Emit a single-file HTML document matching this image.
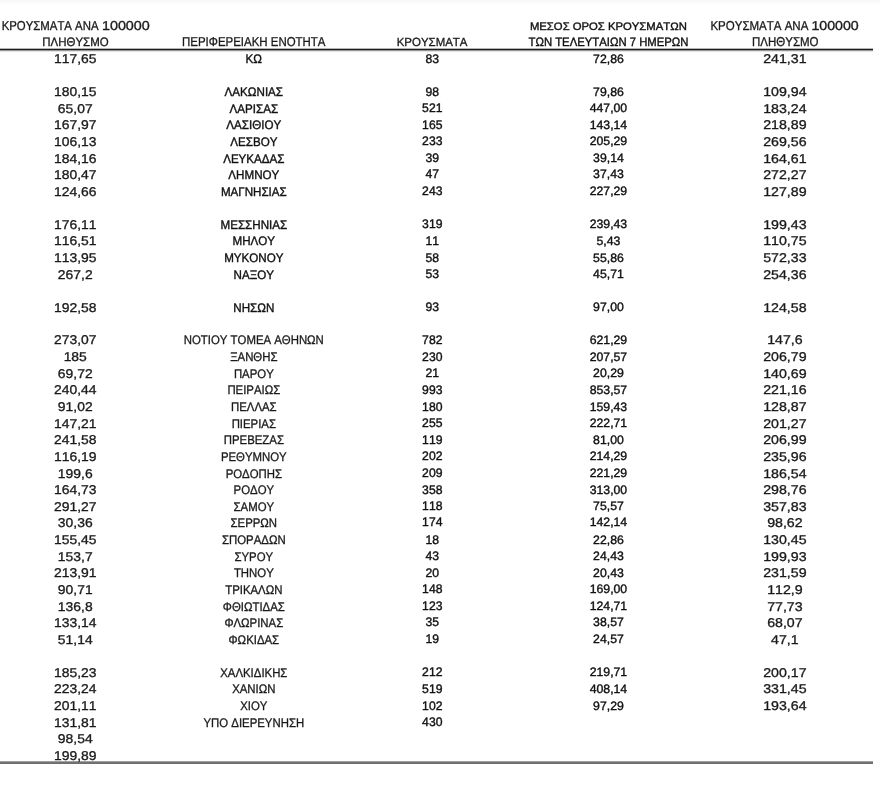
<!DOCTYPE html>
<html><head><meta charset="utf-8"><style>
html,body{margin:0;padding:0;background:#fff;}
body{width:880px;height:798px;position:relative;overflow:hidden;font-family:"Liberation Sans",sans-serif;color:#1e1e1e;text-rendering:geometricPrecision;}
.t{position:absolute;white-space:nowrap;line-height:1;width:300px;text-align:center;transform-origin:50% 0;}
.h{position:absolute;white-space:nowrap;line-height:1;transform-origin:0 0;}
.ln{position:absolute;left:0;width:873px;}
.t span,.h{font-kerning:none;} .cal span,.h.cal{-webkit-text-stroke:0.38px #111;color:#111;} .ari span,.h.ari{-webkit-text-stroke:0.32px #1a1a1a;color:#1a1a1a;} #wrap{position:absolute;left:0;top:0;width:880px;height:798px;filter:blur(0.45px);}
</style></head><body>
<div class="ln" style="top:0;width:880px;height:4px;background:linear-gradient(#f8f8f8,#fcfcfc)"></div>
<div class="ln" style="top:48px;height:4px;background:linear-gradient(#b4b4b4 0 1px,#1c1c1c 1px 2px,#959595 2px 3px,#e4e4e4 3px 4px)"></div>
<div class="ln" style="top:761px;height:3px;background:linear-gradient(#a0a0a0 0 1px,#727272 1px 2px,#6e6e6e 2px 3px)"></div>
<div id="wrap">
<div class="h ari" id="h0" style="left:2px;top:20px;font-size:12.9px;transform:translateX(-0.370px) scaleX(0.8833)">ΚΡΟΥΣΜΑΤΑ ΑΝΑ</div>
<div class="h ari" id="h1" style="left:102px;top:20px;font-size:12.9px;transform:translateX(-0.080px) scaleX(1.1135)">100000</div>
<div class="h ari" id="h2" style="left:42px;top:36px;font-size:12.2px;transform:translateX(0.330px) scaleX(0.9403)">ΠΛΗΘΥΣΜΟ</div>
<div class="h ari" id="h3" style="left:182px;top:36px;font-size:12.9px;transform:translateX(0.030px) scaleX(0.8888)">ΠΕΡΙΦΕΡΕΙΑΚΗ ΕΝΟΤΗΤΑ</div>
<div class="h ari" id="h4" style="left:397px;top:37px;font-size:11.8px;transform:translateX(-0.280px) scaleX(0.9714)">ΚΡΟΥΣΜΑΤΑ</div>
<div class="h cal" id="h5" style="left:530px;top:22px;font-size:10.9px;transform:translateX(-0.080px) scaleX(1.0372)">ΜΕΣΟΣ ΟΡΟΣ ΚΡΟΥΣΜΑΤΩΝ</div>
<div class="h cal" id="h6" style="left:529px;top:36px;font-size:12.2px;transform:translateX(-0.470px) scaleX(0.9283)">ΤΩΝ ΤΕΛΕΥΤΑΙΩΝ 7 ΗΜΕΡΩΝ</div>
<div class="h ari" id="h7" style="left:710px;top:20px;font-size:12.9px;transform:translateX(0.440px) scaleX(0.8924)">ΚΡΟΥΣΜΑΤΑ ΑΝΑ</div>
<div class="h ari" id="h8" style="left:811px;top:20px;font-size:12.9px;transform:translateX(0.410px) scaleX(1.0996)">100000</div>
<div class="h ari" id="h9" style="left:752px;top:36px;font-size:12.9px;transform:translateX(0.020px) scaleX(0.8918)">ΠΛΗΘΥΣΜΟ</div>
<div class="t ari" style="left:-75px;top:53px;font-size:12.8px;transform:translateX(0.250px) scaleX(1.0864)"><span>117,65</span></div>
<div class="t cal" style="left:104px;top:53px;font-size:12.4px;transform:translateX(-0.170px) scaleX(0.9363)"><span>ΚΩ</span></div>
<div class="t cal" style="left:282px;top:53px;font-size:12.4px;transform:translateX(0.280px) scaleX(0.9837)"><span>83</span></div>
<div class="t cal" style="left:458px;top:53px;font-size:12.2px;transform:translateX(0.440px) scaleX(1.006)"><span>72,86</span></div>
<div class="t ari" style="left:635px;top:53px;font-size:12.8px;transform:translateX(-0.100px) scaleX(1.1098)"><span>241,31</span></div>
<div class="t ari" style="left:-75px;top:86px;font-size:12.8px;transform:translateX(0.250px) scaleX(1.0864)"><span>180,15</span></div>
<div class="t cal" style="left:104px;top:86px;font-size:12.4px;transform:translateX(-0.170px) scaleX(0.9363)"><span>ΛΑΚΩΝΙΑΣ</span></div>
<div class="t cal" style="left:282px;top:86px;font-size:12.4px;transform:translateX(0.280px) scaleX(0.9837)"><span>98</span></div>
<div class="t cal" style="left:458px;top:86px;font-size:12.2px;transform:translateX(0.440px) scaleX(1.006)"><span>79,86</span></div>
<div class="t ari" style="left:635px;top:86px;font-size:12.8px;transform:translateX(-0.100px) scaleX(1.1098)"><span>109,94</span></div>
<div class="t ari" style="left:-75px;top:103px;font-size:12.8px;transform:translateX(0.250px) scaleX(1.0864)"><span>65,07</span></div>
<div class="t cal" style="left:104px;top:103px;font-size:12.4px;transform:translateX(-0.170px) scaleX(0.9363)"><span>ΛΑΡΙΣΑΣ</span></div>
<div class="t cal" style="left:282px;top:102px;font-size:12.4px;transform:translateX(0.280px) scaleX(0.9837)"><span>521</span></div>
<div class="t cal" style="left:458px;top:102px;font-size:12.2px;transform:translateX(0.440px) scaleX(1.006)"><span>447,00</span></div>
<div class="t ari" style="left:635px;top:103px;font-size:12.8px;transform:translateX(-0.100px) scaleX(1.1098)"><span>183,24</span></div>
<div class="t ari" style="left:-75px;top:119px;font-size:12.8px;transform:translateX(0.250px) scaleX(1.0864)"><span>167,97</span></div>
<div class="t cal" style="left:104px;top:119px;font-size:12.4px;transform:translateX(-0.170px) scaleX(0.9363)"><span>ΛΑΣΙΘΙΟΥ</span></div>
<div class="t cal" style="left:282px;top:119px;font-size:12.4px;transform:translateX(0.280px) scaleX(0.9837)"><span>165</span></div>
<div class="t cal" style="left:458px;top:119px;font-size:12.2px;transform:translateX(0.440px) scaleX(1.006)"><span>143,14</span></div>
<div class="t ari" style="left:635px;top:119px;font-size:12.8px;transform:translateX(-0.100px) scaleX(1.1098)"><span>218,89</span></div>
<div class="t ari" style="left:-75px;top:136px;font-size:12.8px;transform:translateX(0.250px) scaleX(1.0864)"><span>106,13</span></div>
<div class="t cal" style="left:104px;top:136px;font-size:12.4px;transform:translateX(-0.170px) scaleX(0.9363)"><span>ΛΕΣΒΟΥ</span></div>
<div class="t cal" style="left:282px;top:135px;font-size:12.4px;transform:translateX(0.280px) scaleX(0.9837)"><span>233</span></div>
<div class="t cal" style="left:458px;top:135px;font-size:12.2px;transform:translateX(0.440px) scaleX(1.006)"><span>205,29</span></div>
<div class="t ari" style="left:635px;top:136px;font-size:12.8px;transform:translateX(-0.100px) scaleX(1.1098)"><span>269,56</span></div>
<div class="t ari" style="left:-75px;top:153px;font-size:12.8px;transform:translateX(0.250px) scaleX(1.0864)"><span>184,16</span></div>
<div class="t cal" style="left:104px;top:153px;font-size:12.4px;transform:translateX(-0.170px) scaleX(0.9363)"><span>ΛΕΥΚΑΔΑΣ</span></div>
<div class="t cal" style="left:282px;top:152px;font-size:12.4px;transform:translateX(0.280px) scaleX(0.9837)"><span>39</span></div>
<div class="t cal" style="left:458px;top:152px;font-size:12.2px;transform:translateX(0.440px) scaleX(1.006)"><span>39,14</span></div>
<div class="t ari" style="left:635px;top:153px;font-size:12.8px;transform:translateX(-0.100px) scaleX(1.1098)"><span>164,61</span></div>
<div class="t ari" style="left:-75px;top:169px;font-size:12.8px;transform:translateX(0.250px) scaleX(1.0864)"><span>180,47</span></div>
<div class="t cal" style="left:104px;top:169px;font-size:12.4px;transform:translateX(-0.170px) scaleX(0.9363)"><span>ΛΗΜΝΟΥ</span></div>
<div class="t cal" style="left:282px;top:168px;font-size:12.4px;transform:translateX(0.280px) scaleX(0.9837)"><span>47</span></div>
<div class="t cal" style="left:458px;top:168px;font-size:12.2px;transform:translateX(0.440px) scaleX(1.006)"><span>37,43</span></div>
<div class="t ari" style="left:635px;top:169px;font-size:12.8px;transform:translateX(-0.100px) scaleX(1.1098)"><span>272,27</span></div>
<div class="t ari" style="left:-75px;top:186px;font-size:12.8px;transform:translateX(0.250px) scaleX(1.0864)"><span>124,66</span></div>
<div class="t cal" style="left:104px;top:186px;font-size:12.4px;transform:translateX(-0.170px) scaleX(0.9363)"><span>ΜΑΓΝΗΣΙΑΣ</span></div>
<div class="t cal" style="left:282px;top:185px;font-size:12.4px;transform:translateX(0.280px) scaleX(0.9837)"><span>243</span></div>
<div class="t cal" style="left:458px;top:185px;font-size:12.2px;transform:translateX(0.440px) scaleX(1.006)"><span>227,29</span></div>
<div class="t ari" style="left:635px;top:186px;font-size:12.8px;transform:translateX(-0.100px) scaleX(1.1098)"><span>127,89</span></div>
<div class="t ari" style="left:-75px;top:219px;font-size:12.8px;transform:translateX(0.250px) scaleX(1.0864)"><span>176,11</span></div>
<div class="t cal" style="left:104px;top:219px;font-size:12.4px;transform:translateX(-0.170px) scaleX(0.9363)"><span>ΜΕΣΣΗΝΙΑΣ</span></div>
<div class="t cal" style="left:282px;top:218px;font-size:12.4px;transform:translateX(0.280px) scaleX(0.9837)"><span>319</span></div>
<div class="t cal" style="left:458px;top:218px;font-size:12.2px;transform:translateX(0.440px) scaleX(1.006)"><span>239,43</span></div>
<div class="t ari" style="left:635px;top:219px;font-size:12.8px;transform:translateX(-0.100px) scaleX(1.1098)"><span>199,43</span></div>
<div class="t ari" style="left:-75px;top:235px;font-size:12.8px;transform:translateX(0.250px) scaleX(1.0864)"><span>116,51</span></div>
<div class="t cal" style="left:104px;top:235px;font-size:12.4px;transform:translateX(-0.170px) scaleX(0.9363)"><span>ΜΗΛΟΥ</span></div>
<div class="t cal" style="left:282px;top:235px;font-size:12.4px;transform:translateX(0.280px) scaleX(0.9837)"><span>11</span></div>
<div class="t cal" style="left:458px;top:235px;font-size:12.2px;transform:translateX(0.440px) scaleX(1.006)"><span>5,43</span></div>
<div class="t ari" style="left:635px;top:235px;font-size:12.8px;transform:translateX(-0.100px) scaleX(1.1098)"><span>110,75</span></div>
<div class="t ari" style="left:-75px;top:252px;font-size:12.8px;transform:translateX(0.250px) scaleX(1.0864)"><span>113,95</span></div>
<div class="t cal" style="left:104px;top:252px;font-size:12.4px;transform:translateX(-0.170px) scaleX(0.9363)"><span>ΜΥΚΟΝΟΥ</span></div>
<div class="t cal" style="left:282px;top:252px;font-size:12.4px;transform:translateX(0.280px) scaleX(0.9837)"><span>58</span></div>
<div class="t cal" style="left:458px;top:252px;font-size:12.2px;transform:translateX(0.440px) scaleX(1.006)"><span>55,86</span></div>
<div class="t ari" style="left:635px;top:252px;font-size:12.8px;transform:translateX(-0.100px) scaleX(1.1098)"><span>572,33</span></div>
<div class="t ari" style="left:-75px;top:269px;font-size:12.8px;transform:translateX(0.250px) scaleX(1.0864)"><span>267,2</span></div>
<div class="t cal" style="left:104px;top:269px;font-size:12.4px;transform:translateX(-0.170px) scaleX(0.9363)"><span>ΝΑΞΟΥ</span></div>
<div class="t cal" style="left:282px;top:268px;font-size:12.4px;transform:translateX(0.280px) scaleX(0.9837)"><span>53</span></div>
<div class="t cal" style="left:458px;top:268px;font-size:12.2px;transform:translateX(0.440px) scaleX(1.006)"><span>45,71</span></div>
<div class="t ari" style="left:635px;top:269px;font-size:12.8px;transform:translateX(-0.100px) scaleX(1.1098)"><span>254,36</span></div>
<div class="t ari" style="left:-75px;top:302px;font-size:12.8px;transform:translateX(0.250px) scaleX(1.0864)"><span>192,58</span></div>
<div class="t cal" style="left:104px;top:302px;font-size:12.4px;transform:translateX(-0.170px) scaleX(0.9363)"><span>ΝΗΣΩΝ</span></div>
<div class="t cal" style="left:282px;top:301px;font-size:12.4px;transform:translateX(0.280px) scaleX(0.9837)"><span>93</span></div>
<div class="t cal" style="left:458px;top:301px;font-size:12.2px;transform:translateX(0.440px) scaleX(1.006)"><span>97,00</span></div>
<div class="t ari" style="left:635px;top:302px;font-size:12.8px;transform:translateX(-0.100px) scaleX(1.1098)"><span>124,58</span></div>
<div class="t ari" style="left:-75px;top:334px;font-size:12.8px;transform:translateX(0.250px) scaleX(1.0864)"><span>273,07</span></div>
<div class="t ari" style="left:104px;top:334px;font-size:12.4px;transform:translateX(-0.170px) scaleX(0.9186)"><span>ΝΟΤΙΟΥ ΤΟΜΕΑ ΑΘΗΝΩΝ</span></div>
<div class="t cal" style="left:282px;top:334px;font-size:12.4px;transform:translateX(0.280px) scaleX(0.9837)"><span>782</span></div>
<div class="t cal" style="left:458px;top:334px;font-size:12.2px;transform:translateX(0.440px) scaleX(1.006)"><span>621,29</span></div>
<div class="t ari" style="left:635px;top:334px;font-size:12.8px;transform:translateX(-0.100px) scaleX(1.1098)"><span>147,6</span></div>
<div class="t ari" style="left:-75px;top:351px;font-size:12.8px;transform:translateX(0.250px) scaleX(1.0864)"><span>185</span></div>
<div class="t ari" style="left:104px;top:351px;font-size:12.4px;transform:translateX(-0.170px) scaleX(0.9186)"><span>ΞΑΝΘΗΣ</span></div>
<div class="t cal" style="left:282px;top:351px;font-size:12.4px;transform:translateX(0.280px) scaleX(0.9837)"><span>230</span></div>
<div class="t cal" style="left:458px;top:351px;font-size:12.2px;transform:translateX(0.440px) scaleX(1.006)"><span>207,57</span></div>
<div class="t ari" style="left:635px;top:351px;font-size:12.8px;transform:translateX(-0.100px) scaleX(1.1098)"><span>206,79</span></div>
<div class="t ari" style="left:-75px;top:368px;font-size:12.8px;transform:translateX(0.250px) scaleX(1.0864)"><span>69,72</span></div>
<div class="t ari" style="left:104px;top:368px;font-size:12.4px;transform:translateX(-0.170px) scaleX(0.9186)"><span>ΠΑΡΟΥ</span></div>
<div class="t cal" style="left:282px;top:367px;font-size:12.4px;transform:translateX(0.280px) scaleX(0.9837)"><span>21</span></div>
<div class="t cal" style="left:458px;top:367px;font-size:12.2px;transform:translateX(0.440px) scaleX(1.006)"><span>20,29</span></div>
<div class="t ari" style="left:635px;top:368px;font-size:12.8px;transform:translateX(-0.100px) scaleX(1.1098)"><span>140,69</span></div>
<div class="t ari" style="left:-75px;top:384px;font-size:12.8px;transform:translateX(0.250px) scaleX(1.0864)"><span>240,44</span></div>
<div class="t ari" style="left:104px;top:384px;font-size:12.4px;transform:translateX(-0.170px) scaleX(0.9186)"><span>ΠΕΙΡΑΙΩΣ</span></div>
<div class="t cal" style="left:282px;top:384px;font-size:12.4px;transform:translateX(0.280px) scaleX(0.9837)"><span>993</span></div>
<div class="t cal" style="left:458px;top:384px;font-size:12.2px;transform:translateX(0.440px) scaleX(1.006)"><span>853,57</span></div>
<div class="t ari" style="left:635px;top:384px;font-size:12.8px;transform:translateX(-0.100px) scaleX(1.1098)"><span>221,16</span></div>
<div class="t ari" style="left:-75px;top:401px;font-size:12.8px;transform:translateX(0.250px) scaleX(1.0864)"><span>91,02</span></div>
<div class="t ari" style="left:104px;top:401px;font-size:12.4px;transform:translateX(-0.170px) scaleX(0.9186)"><span>ΠΕΛΛΑΣ</span></div>
<div class="t cal" style="left:282px;top:401px;font-size:12.4px;transform:translateX(0.280px) scaleX(0.9837)"><span>180</span></div>
<div class="t cal" style="left:458px;top:401px;font-size:12.2px;transform:translateX(0.440px) scaleX(1.006)"><span>159,43</span></div>
<div class="t ari" style="left:635px;top:401px;font-size:12.8px;transform:translateX(-0.100px) scaleX(1.1098)"><span>128,87</span></div>
<div class="t ari" style="left:-75px;top:418px;font-size:12.8px;transform:translateX(0.250px) scaleX(1.0864)"><span>147,21</span></div>
<div class="t ari" style="left:104px;top:418px;font-size:12.4px;transform:translateX(-0.170px) scaleX(0.9186)"><span>ΠΙΕΡΙΑΣ</span></div>
<div class="t cal" style="left:282px;top:417px;font-size:12.4px;transform:translateX(0.280px) scaleX(0.9837)"><span>255</span></div>
<div class="t cal" style="left:458px;top:417px;font-size:12.2px;transform:translateX(0.440px) scaleX(1.006)"><span>222,71</span></div>
<div class="t ari" style="left:635px;top:418px;font-size:12.8px;transform:translateX(-0.100px) scaleX(1.1098)"><span>201,27</span></div>
<div class="t ari" style="left:-75px;top:434px;font-size:12.8px;transform:translateX(0.250px) scaleX(1.0864)"><span>241,58</span></div>
<div class="t ari" style="left:104px;top:434px;font-size:12.4px;transform:translateX(-0.170px) scaleX(0.9186)"><span>ΠΡΕΒΕΖΑΣ</span></div>
<div class="t cal" style="left:282px;top:434px;font-size:12.4px;transform:translateX(0.280px) scaleX(0.9837)"><span>119</span></div>
<div class="t cal" style="left:458px;top:434px;font-size:12.2px;transform:translateX(0.440px) scaleX(1.006)"><span>81,00</span></div>
<div class="t ari" style="left:635px;top:434px;font-size:12.8px;transform:translateX(-0.100px) scaleX(1.1098)"><span>206,99</span></div>
<div class="t ari" style="left:-75px;top:451px;font-size:12.8px;transform:translateX(0.250px) scaleX(1.0864)"><span>116,19</span></div>
<div class="t ari" style="left:104px;top:451px;font-size:12.4px;transform:translateX(-0.170px) scaleX(0.9186)"><span>ΡΕΘΥΜΝΟΥ</span></div>
<div class="t cal" style="left:282px;top:450px;font-size:12.4px;transform:translateX(0.280px) scaleX(0.9837)"><span>202</span></div>
<div class="t cal" style="left:458px;top:450px;font-size:12.2px;transform:translateX(0.440px) scaleX(1.006)"><span>214,29</span></div>
<div class="t ari" style="left:635px;top:451px;font-size:12.8px;transform:translateX(-0.100px) scaleX(1.1098)"><span>235,96</span></div>
<div class="t ari" style="left:-75px;top:468px;font-size:12.8px;transform:translateX(0.250px) scaleX(1.0864)"><span>199,6</span></div>
<div class="t ari" style="left:104px;top:468px;font-size:12.4px;transform:translateX(-0.170px) scaleX(0.9186)"><span>ΡΟΔΟΠΗΣ</span></div>
<div class="t cal" style="left:282px;top:467px;font-size:12.4px;transform:translateX(0.280px) scaleX(0.9837)"><span>209</span></div>
<div class="t cal" style="left:458px;top:467px;font-size:12.2px;transform:translateX(0.440px) scaleX(1.006)"><span>221,29</span></div>
<div class="t ari" style="left:635px;top:468px;font-size:12.8px;transform:translateX(-0.100px) scaleX(1.1098)"><span>186,54</span></div>
<div class="t ari" style="left:-75px;top:484px;font-size:12.8px;transform:translateX(0.250px) scaleX(1.0864)"><span>164,73</span></div>
<div class="t ari" style="left:104px;top:484px;font-size:12.4px;transform:translateX(-0.170px) scaleX(0.9186)"><span>ΡΟΔΟΥ</span></div>
<div class="t cal" style="left:282px;top:484px;font-size:12.4px;transform:translateX(0.280px) scaleX(0.9837)"><span>358</span></div>
<div class="t cal" style="left:458px;top:484px;font-size:12.2px;transform:translateX(0.440px) scaleX(1.006)"><span>313,00</span></div>
<div class="t ari" style="left:635px;top:484px;font-size:12.8px;transform:translateX(-0.100px) scaleX(1.1098)"><span>298,76</span></div>
<div class="t ari" style="left:-75px;top:501px;font-size:12.8px;transform:translateX(0.250px) scaleX(1.0864)"><span>291,27</span></div>
<div class="t ari" style="left:104px;top:501px;font-size:12.4px;transform:translateX(-0.170px) scaleX(0.9186)"><span>ΣΑΜΟΥ</span></div>
<div class="t cal" style="left:282px;top:500px;font-size:12.4px;transform:translateX(0.280px) scaleX(0.9837)"><span>118</span></div>
<div class="t cal" style="left:458px;top:500px;font-size:12.2px;transform:translateX(0.440px) scaleX(1.006)"><span>75,57</span></div>
<div class="t ari" style="left:635px;top:501px;font-size:12.8px;transform:translateX(-0.100px) scaleX(1.1098)"><span>357,83</span></div>
<div class="t ari" style="left:-75px;top:517px;font-size:12.8px;transform:translateX(0.250px) scaleX(1.0864)"><span>30,36</span></div>
<div class="t ari" style="left:104px;top:517px;font-size:12.4px;transform:translateX(-0.170px) scaleX(0.9186)"><span>ΣΕΡΡΩΝ</span></div>
<div class="t cal" style="left:282px;top:516px;font-size:12.4px;transform:translateX(0.280px) scaleX(0.9837)"><span>174</span></div>
<div class="t cal" style="left:458px;top:516px;font-size:12.2px;transform:translateX(0.440px) scaleX(1.006)"><span>142,14</span></div>
<div class="t ari" style="left:635px;top:517px;font-size:12.8px;transform:translateX(-0.100px) scaleX(1.1098)"><span>98,62</span></div>
<div class="t ari" style="left:-75px;top:534px;font-size:12.8px;transform:translateX(0.250px) scaleX(1.0864)"><span>155,45</span></div>
<div class="t ari" style="left:104px;top:534px;font-size:12.4px;transform:translateX(-0.170px) scaleX(0.9186)"><span>ΣΠΟΡΑΔΩΝ</span></div>
<div class="t cal" style="left:282px;top:534px;font-size:12.4px;transform:translateX(0.280px) scaleX(0.9837)"><span>18</span></div>
<div class="t cal" style="left:458px;top:534px;font-size:12.2px;transform:translateX(0.440px) scaleX(1.006)"><span>22,86</span></div>
<div class="t ari" style="left:635px;top:534px;font-size:12.8px;transform:translateX(-0.100px) scaleX(1.1098)"><span>130,45</span></div>
<div class="t ari" style="left:-75px;top:551px;font-size:12.8px;transform:translateX(0.250px) scaleX(1.0864)"><span>153,7</span></div>
<div class="t ari" style="left:104px;top:551px;font-size:12.4px;transform:translateX(-0.170px) scaleX(0.9186)"><span>ΣΥΡΟΥ</span></div>
<div class="t cal" style="left:282px;top:550px;font-size:12.4px;transform:translateX(0.280px) scaleX(0.9837)"><span>43</span></div>
<div class="t cal" style="left:458px;top:550px;font-size:12.2px;transform:translateX(0.440px) scaleX(1.006)"><span>24,43</span></div>
<div class="t ari" style="left:635px;top:551px;font-size:12.8px;transform:translateX(-0.100px) scaleX(1.1098)"><span>199,93</span></div>
<div class="t ari" style="left:-75px;top:567px;font-size:12.8px;transform:translateX(0.250px) scaleX(1.0864)"><span>213,91</span></div>
<div class="t ari" style="left:104px;top:567px;font-size:12.4px;transform:translateX(-0.170px) scaleX(0.9186)"><span>ΤΗΝΟΥ</span></div>
<div class="t cal" style="left:282px;top:567px;font-size:12.4px;transform:translateX(0.280px) scaleX(0.9837)"><span>20</span></div>
<div class="t cal" style="left:458px;top:567px;font-size:12.2px;transform:translateX(0.440px) scaleX(1.006)"><span>20,43</span></div>
<div class="t ari" style="left:635px;top:567px;font-size:12.8px;transform:translateX(-0.100px) scaleX(1.1098)"><span>231,59</span></div>
<div class="t ari" style="left:-75px;top:584px;font-size:12.8px;transform:translateX(0.250px) scaleX(1.0864)"><span>90,71</span></div>
<div class="t ari" style="left:104px;top:584px;font-size:12.4px;transform:translateX(-0.170px) scaleX(0.9186)"><span>ΤΡΙΚΑΛΩΝ</span></div>
<div class="t cal" style="left:282px;top:583px;font-size:12.4px;transform:translateX(0.280px) scaleX(0.9837)"><span>148</span></div>
<div class="t cal" style="left:458px;top:583px;font-size:12.2px;transform:translateX(0.440px) scaleX(1.006)"><span>169,00</span></div>
<div class="t ari" style="left:635px;top:584px;font-size:12.8px;transform:translateX(-0.100px) scaleX(1.1098)"><span>112,9</span></div>
<div class="t ari" style="left:-75px;top:601px;font-size:12.8px;transform:translateX(0.250px) scaleX(1.0864)"><span>136,8</span></div>
<div class="t ari" style="left:104px;top:601px;font-size:12.4px;transform:translateX(-0.170px) scaleX(0.9186)"><span>ΦΘΙΩΤΙΔΑΣ</span></div>
<div class="t cal" style="left:282px;top:600px;font-size:12.4px;transform:translateX(0.280px) scaleX(0.9837)"><span>123</span></div>
<div class="t cal" style="left:458px;top:600px;font-size:12.2px;transform:translateX(0.440px) scaleX(1.006)"><span>124,71</span></div>
<div class="t ari" style="left:635px;top:601px;font-size:12.8px;transform:translateX(-0.100px) scaleX(1.1098)"><span>77,73</span></div>
<div class="t ari" style="left:-75px;top:617px;font-size:12.8px;transform:translateX(0.250px) scaleX(1.0864)"><span>133,14</span></div>
<div class="t ari" style="left:104px;top:617px;font-size:12.4px;transform:translateX(-0.170px) scaleX(0.9186)"><span>ΦΛΩΡΙΝΑΣ</span></div>
<div class="t cal" style="left:282px;top:616px;font-size:12.4px;transform:translateX(0.280px) scaleX(0.9837)"><span>35</span></div>
<div class="t cal" style="left:458px;top:616px;font-size:12.2px;transform:translateX(0.440px) scaleX(1.006)"><span>38,57</span></div>
<div class="t ari" style="left:635px;top:617px;font-size:12.8px;transform:translateX(-0.100px) scaleX(1.1098)"><span>68,07</span></div>
<div class="t ari" style="left:-75px;top:634px;font-size:12.8px;transform:translateX(0.250px) scaleX(1.0864)"><span>51,14</span></div>
<div class="t ari" style="left:104px;top:634px;font-size:12.4px;transform:translateX(-0.170px) scaleX(0.9186)"><span>ΦΩΚΙΔΑΣ</span></div>
<div class="t cal" style="left:282px;top:633px;font-size:12.4px;transform:translateX(0.280px) scaleX(0.9837)"><span>19</span></div>
<div class="t cal" style="left:458px;top:633px;font-size:12.2px;transform:translateX(0.440px) scaleX(1.006)"><span>24,57</span></div>
<div class="t ari" style="left:635px;top:634px;font-size:12.8px;transform:translateX(-0.100px) scaleX(1.1098)"><span>47,1</span></div>
<div class="t ari" style="left:-75px;top:667px;font-size:12.8px;transform:translateX(0.250px) scaleX(1.0864)"><span>185,23</span></div>
<div class="t ari" style="left:104px;top:667px;font-size:12.4px;transform:translateX(-0.170px) scaleX(0.9186)"><span>ΧΑΛΚΙΔΙΚΗΣ</span></div>
<div class="t cal" style="left:282px;top:666px;font-size:12.4px;transform:translateX(0.280px) scaleX(0.9837)"><span>212</span></div>
<div class="t cal" style="left:458px;top:666px;font-size:12.2px;transform:translateX(0.440px) scaleX(1.006)"><span>219,71</span></div>
<div class="t ari" style="left:635px;top:667px;font-size:12.8px;transform:translateX(-0.100px) scaleX(1.1098)"><span>200,17</span></div>
<div class="t ari" style="left:-75px;top:683px;font-size:12.8px;transform:translateX(0.250px) scaleX(1.0864)"><span>223,24</span></div>
<div class="t ari" style="left:104px;top:683px;font-size:12.4px;transform:translateX(-0.170px) scaleX(0.9186)"><span>ΧΑΝΙΩΝ</span></div>
<div class="t cal" style="left:282px;top:683px;font-size:12.4px;transform:translateX(0.280px) scaleX(0.9837)"><span>519</span></div>
<div class="t cal" style="left:458px;top:683px;font-size:12.2px;transform:translateX(0.440px) scaleX(1.006)"><span>408,14</span></div>
<div class="t ari" style="left:635px;top:683px;font-size:12.8px;transform:translateX(-0.100px) scaleX(1.1098)"><span>331,45</span></div>
<div class="t ari" style="left:-75px;top:700px;font-size:12.8px;transform:translateX(0.250px) scaleX(1.0864)"><span>201,11</span></div>
<div class="t ari" style="left:104px;top:700px;font-size:12.4px;transform:translateX(-0.170px) scaleX(0.9186)"><span>ΧΙΟΥ</span></div>
<div class="t cal" style="left:282px;top:700px;font-size:12.4px;transform:translateX(0.280px) scaleX(0.9837)"><span>102</span></div>
<div class="t cal" style="left:458px;top:700px;font-size:12.2px;transform:translateX(0.440px) scaleX(1.006)"><span>97,29</span></div>
<div class="t ari" style="left:635px;top:700px;font-size:12.8px;transform:translateX(-0.100px) scaleX(1.1098)"><span>193,64</span></div>
<div class="t ari" style="left:-75px;top:717px;font-size:12.8px;transform:translateX(0.250px) scaleX(1.0864)"><span>131,81</span></div>
<div class="t ari" style="left:104px;top:717px;font-size:12.4px;transform:translateX(-0.170px) scaleX(0.9186)"><span>ΥΠΟ ΔΙΕΡΕΥΝΗΣΗ</span></div>
<div class="t cal" style="left:282px;top:716px;font-size:12.4px;transform:translateX(0.280px) scaleX(0.9837)"><span>430</span></div>
<div class="t ari" style="left:-75px;top:733px;font-size:12.8px;transform:translateX(0.250px) scaleX(1.0864)"><span>98,54</span></div>
<div class="t ari" style="left:-75px;top:750px;font-size:12.8px;transform:translateX(0.250px) scaleX(1.0864)"><span>199,89</span></div>
</div></body></html>
